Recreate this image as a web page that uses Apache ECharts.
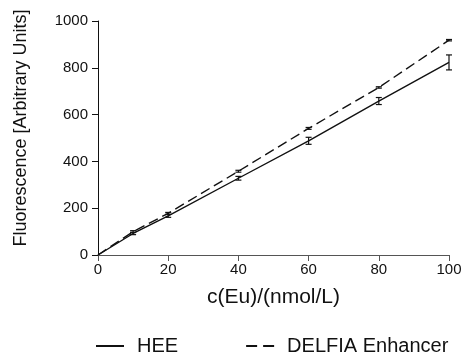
<!DOCTYPE html>
<html>
<head>
<meta charset="utf-8">
<script src="https://cdn.jsdelivr.net/npm/echarts@6/dist/echarts.min.js"></script>
<style>
  html, body { margin: 0; padding: 0; background: #fff; }
  #chart { width: 468px; height: 356px; }
</style>
</head>
<body>
<div id="chart"></div>
<script>
// concentration of Eu, nmol/L
const concentrations = [0, 10, 20, 40, 60, 80, 100];
// fluorescence readings (arbitrary units) and their error bars
const heeValues = [0, 92, 167, 328, 488, 658, 823];
const heeErrors = [0, 5, 6, 8, 15, 15, 32];
const delfiaValues = [0, 100, 178, 358, 541, 716, 918];
const delfiaErrors = [0, 4, 4, 4, 4, 3, 3];

const xTicks = [0, 20, 40, 60, 80, 100];
const yTicks = [0, 200, 400, 600, 800, 1000];

const font = '"Liberation Sans", Arial, sans-serif';
const ink = '#111';

const myChart = echarts.init(document.getElementById('chart'));

function pairs(xs, ys) {
  return xs.map((x, i) => [x, ys[i]]);
}
function errRows(xs, ys, es) {
  return xs.map((x, i) => [x, ys[i], es[i]]);
}

// vertical error bar with small caps
function renderErrorBar(params, api) {
  const x = api.value(0);
  const y = api.value(1);
  const e = api.value(2);
  if (!e) return null;
  const hi = api.coord([x, y + e]);
  const lo = api.coord([x, y - e]);
  const cap = 3;
  const style = {stroke: ink, lineWidth: 1.2};
  return {
    type: 'group',
    children: [
      {type: 'line', shape: {x1: hi[0], y1: hi[1], x2: lo[0], y2: lo[1]}, style: style},
      {type: 'line', shape: {x1: hi[0] - cap, y1: hi[1], x2: hi[0] + cap, y2: hi[1]}, style: style},
      {type: 'line', shape: {x1: lo[0] - cap, y1: lo[1], x2: lo[0] + cap, y2: lo[1]}, style: style}
    ]
  };
}

const option = {
  animation: false,
  textStyle: {fontFamily: font},
  grid: {left: 98, right: 19, top: 21, bottom: 101},
  legend: {
    data: [
      {name: 'HEE'},
      {name: 'DELFIA Enhancer', lineStyle: {type: [11, 6]}}
    ],
    left: 90,
    top: 331,
    itemWidth: 28,
    itemHeight: 14,
    itemGap: 67,
    itemStyle: {opacity: 0},
    textStyle: {fontSize: 20, color: ink, fontFamily: font, padding: [0, 0, 0, 8]}
  },
  xAxis: {
    type: 'value',
    min: 0,
    max: 100,
    interval: 20,
    name: 'c(Eu)/(nmol/L)',
    nameLocation: 'middle',
    nameGap: 32,
    nameTextStyle: {fontSize: 21, color: ink, fontFamily: font},
    axisLine: {lineStyle: {color: '#555', width: 1}},
    axisTick: {show: true, length: 6, lineStyle: {color: '#555'}},
    axisLabel: {
      fontSize: 15, color: ink, margin: 7, fontFamily: font,
      customValues: xTicks,
      formatter: (v) => String(v)
    },
    splitLine: {show: false}
  },
  yAxis: {
    type: 'value',
    min: 0,
    max: 1000,
    interval: 200,
    name: 'Fluorescence [Arbitrary Units]',
    nameLocation: 'middle',
    nameGap: 68,
    nameTextStyle: {fontSize: 18, color: ink, fontFamily: font, padding: [0, 0, 0, 20]},
    axisLine: {show: true, lineStyle: {color: ink, width: 1}},
    axisTick: {show: true, length: 6, lineStyle: {color: ink}},
    axisLabel: {
      fontSize: 15, color: ink, margin: 10, fontFamily: font,
      customValues: yTicks,
      formatter: (v) => String(v)
    },
    splitLine: {show: false}
  },
  series: [
    {
      name: 'HEE',
      type: 'line',
      data: pairs(concentrations, heeValues),
      symbol: 'none',
      lineStyle: {color: ink, width: 1.4, type: 'solid'},
      itemStyle: {color: ink},
      z: 3
    },
    {
      name: 'DELFIA Enhancer',
      type: 'line',
      data: pairs(concentrations, delfiaValues),
      symbol: 'none',
      lineStyle: {color: ink, width: 1.4, type: [10, 5]},
      itemStyle: {color: ink},
      z: 3
    },
    {
      name: 'HEE err',
      type: 'custom',
      renderItem: renderErrorBar,
      data: errRows(concentrations, heeValues, heeErrors),
      encode: {x: 0, y: 1},
      z: 4
    },
    {
      name: 'DELFIA err',
      type: 'custom',
      renderItem: renderErrorBar,
      data: errRows(concentrations, delfiaValues, delfiaErrors),
      encode: {x: 0, y: 1},
      z: 4
    }
  ]
};

option && myChart.setOption(option);
</script>
</body>
</html>
